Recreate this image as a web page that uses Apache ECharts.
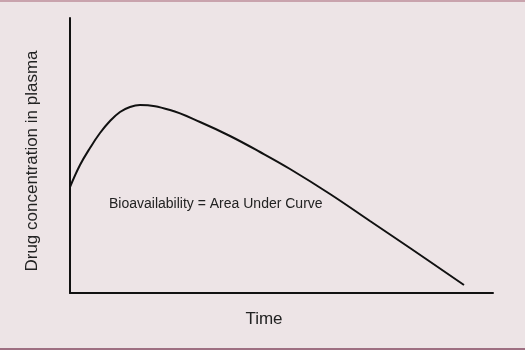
<!DOCTYPE html>
<html>
<head>
<meta charset="utf-8">
<script src="https://cdn.jsdelivr.net/npm/echarts@6/dist/echarts.min.js"></script>
<style>
html,body{margin:0;padding:0;background:#ede4e6;}
#chart{width:525px;height:350px;}
</style>
</head>
<body>
<div id="chart"></div>
<script>
// Time (arbitrary units) and plasma concentration (arbitrary units)
var timeVals = [0,10,20,30,40,50,60,70,100,130,160,190,220,260,300,340,394];
var concVals = [106,128,145,160,172,181,186,188,183,171,157,141,124,99,72,45,8];
var xLabel = 'Time';
var yLabel = 'Drug concentration in plasma';
var annotation = 'Bioavailability = Area Under Curve';

var chart = echarts.init(document.getElementById('chart'), null, {renderer: 'canvas'});
var pts = timeVals.map(function (t, i) { return [t, concVals[i]]; });
var font = 'Liberation Sans, Arial, sans-serif';

chart.setOption({
  backgroundColor: '#ede4e6',
  animation: false,
  grid: {left: 70, right: 32, top: 18, bottom: 57},
  xAxis: {
    type: 'value', min: 0, max: 423,
    axisLine: {show: true, onZero: false, lineStyle: {color: '#111', width: 2}},
    axisTick: {show: false}, axisLabel: {show: false}, splitLine: {show: false}
  },
  yAxis: {
    type: 'value', min: 0, max: 275,
    axisLine: {show: true, onZero: false, lineStyle: {color: '#111', width: 2}},
    axisTick: {show: false}, axisLabel: {show: false}, splitLine: {show: false}
  },
  series: [{
    type: 'line',
    data: pts,
    smooth: 0.4,
    symbol: 'none',
    lineStyle: {color: '#111', width: 2}
  }],
  graphic: [
    {type: 'rect', shape: {x: 0, y: 0, width: 525, height: 2}, style: {fill: '#c9a3ad'}, silent: true},
    {type: 'rect', shape: {x: 0, y: 348, width: 525, height: 2}, style: {fill: '#9e6f82'}, silent: true},
    {type: 'text', x: 264, y: 319, style: {text: xLabel, font: '17px ' + font, fill: '#222', textAlign: 'center', textVerticalAlign: 'middle'}},
    {type: 'text', x: 32, y: 161, rotation: Math.PI / 2, style: {text: yLabel, font: '17px ' + font, fill: '#222', textAlign: 'center', textVerticalAlign: 'middle'}},
    {type: 'text', x: 109, y: 204, style: {text: annotation, font: '14px ' + font, fill: '#222', textAlign: 'left', textVerticalAlign: 'middle'}}
  ]
});
</script>
</body>
</html>
